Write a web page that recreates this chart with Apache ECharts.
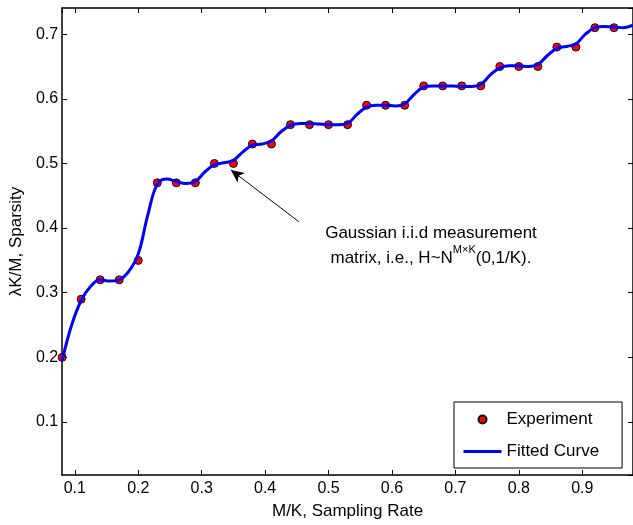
<!DOCTYPE html>
<html>
<head>
<meta charset="utf-8">
<script src="https://cdn.jsdelivr.net/npm/echarts@6/dist/echarts.min.js"></script>
<style>
html,body{margin:0;padding:0;background:#fff;}
#chart{width:633px;height:525px;}
</style>
</head>
<body>
<div id="chart"></div>
<script>
// Experiment points
var expX = [0.08,0.11,0.14,0.17,0.20,0.23,0.26,0.29,0.32,0.35,0.38,0.41,0.44,0.47,0.50,0.53,0.56,0.59,0.62,0.65,0.68,0.71,0.74,0.77,0.80,0.83,0.86,0.89,0.92,0.95];
var expY = [0.20,0.29,0.32,0.32,0.35,0.47,0.47,0.47,0.50,0.50,0.53,0.53,0.56,0.56,0.56,0.56,0.59,0.59,0.59,0.62,0.62,0.62,0.62,0.65,0.65,0.65,0.68,0.68,0.71,0.71];
// Fitted curve
var fitX = [0.08,0.095,0.11,0.125,0.14,0.155,0.17,0.185,0.20,0.215,0.23,0.245,0.26,0.275,0.29,0.305,0.32,0.335,0.35,0.365,0.38,0.395,0.41,0.425,0.44,0.455,0.47,0.485,0.50,0.515,0.53,0.545,0.56,0.575,0.59,0.605,0.62,0.635,0.65,0.665,0.68,0.695,0.71,0.725,0.74,0.755,0.77,0.785,0.80,0.815,0.83,0.845,0.86,0.875,0.89,0.905,0.92,0.935,0.95,0.965,0.98];
var fitY = [0.195,0.250,0.288,0.310,0.320,0.318,0.320,0.333,0.360,0.420,0.468,0.476,0.472,0.469,0.472,0.487,0.498,0.501,0.505,0.518,0.528,0.530,0.535,0.549,0.559,0.562,0.562,0.561,0.560,0.560,0.562,0.576,0.587,0.590,0.590,0.589,0.592,0.607,0.618,0.620,0.620,0.620,0.619,0.619,0.622,0.637,0.648,0.651,0.651,0.650,0.653,0.667,0.678,0.681,0.685,0.700,0.710,0.712,0.711,0.710,0.714];
// Axis ranges
var xRange = [0.08, 0.98];
var yRange = [0.018, 0.7405];
// Annotation arrow (data units): tail -> tip
var arrowTail = [0.453, 0.410];
var arrowTip = [0.346, 0.490];

var FONT = 'Liberation Sans, Arial, sans-serif';
var expData = expX.map(function(x,i){return [x, expY[i]];});
var fitData = fitX.map(function(x,i){return [x, fitY[i]];});

var chart = echarts.init(document.getElementById('chart'), null, {renderer:'canvas'});
var axisCommon = {
  type:'value',
  axisLine:{show:true, onZero:false, lineStyle:{color:'#000', width:1.5}},
  axisTick:{show:true, inside:true, length:5, lineStyle:{color:'#000', width:1}},
  splitLine:{show:false}
};
var option = {
  backgroundColor:'#fff',
  animation:false,
  grid:{left:62, top:8, width:571, height:471, containLabel:false},
  xAxis:[
    Object.assign({}, axisCommon, {min:xRange[0], max:xRange[1], splitNumber:9, position:'bottom',
      name:'M/K, Sampling Rate', nameLocation:'middle', nameGap:28,
      nameTextStyle:{fontFamily:FONT, fontSize:17, color:'#000'},
      axisLabel:{show:true, margin:6, fontFamily:FONT, fontSize:16, color:'#000', showMinLabel:false, showMaxLabel:false}}),
    Object.assign({}, axisCommon, {min:xRange[0], max:xRange[1], splitNumber:9, position:'top',
      axisLabel:{show:false}})
  ],
  yAxis:[
    Object.assign({}, axisCommon, {min:yRange[0], max:yRange[1], splitNumber:7, position:'left',
      name:'λK/M, Sparsity', nameLocation:'middle', nameGap:28,
      nameTextStyle:{fontFamily:FONT, fontSize:17, color:'#000'},
      axisLabel:{show:true, margin:4, fontFamily:FONT, fontSize:16, color:'#000', showMinLabel:false, showMaxLabel:false}}),
    Object.assign({}, axisCommon, {min:yRange[0], max:yRange[1], splitNumber:7, position:'right',
      axisLabel:{show:false}})
  ],
  legend:{
    orient:'vertical', left:454, top:402,
    backgroundColor:'#fff', borderColor:'#000', borderWidth:1,
    padding:[9,23,8,8], itemGap:15, itemWidth:38, itemHeight:8,
    textStyle:{fontFamily:FONT, fontSize:17, color:'#000'},
    data:[
      {name:'Experiment'},
      {name:'Fitted Curve', itemStyle:{opacity:0, borderWidth:0}, lineStyle:{color:'#0000ff', width:3, opacity:1}}
    ]
  },
  series:[
    {
      name:'Experiment', type:'scatter', data:expData, symbol:'circle', symbolSize:8,
      itemStyle:{color:'#ff0000', borderColor:'#111', borderWidth:1, opacity:1},
      z:2,
      markLine:{
        silent:true, symbol:['none','arrow'], symbolSize:[9,13],
        lineStyle:{color:'#000', width:1, type:'solid'},
        label:{show:false},
        data:[[{coord:arrowTail},{coord:arrowTip}]]
      }
    },
    {
      name:'Fitted Curve', type:'line', data:fitData, smooth:0.4, showSymbol:false, symbol:'none',
      lineStyle:{color:'#0000ff', width:3}, itemStyle:{color:'#0000ff'}, z:3
    }
  ],
  graphic:[
    {
      type:'text',
      x:431, y:217,
      style:{
        text:'{a|Gaussian i.i.d measurement}\n{a|matrix, i.e., H~N}{s|M×K}{a|(0,1/K).}',
        textAlign:'center', fill:'#000',
        rich:{
          a:{fontFamily:FONT, fontSize:17, lineHeight:25, verticalAlign:'bottom'},
          s:{fontFamily:FONT, fontSize:11, lineHeight:25, verticalAlign:'top', padding:[2,0,0,0]}
        }
      }
    }
  ]
};
chart.setOption(option);
</script>
</body>
</html>
